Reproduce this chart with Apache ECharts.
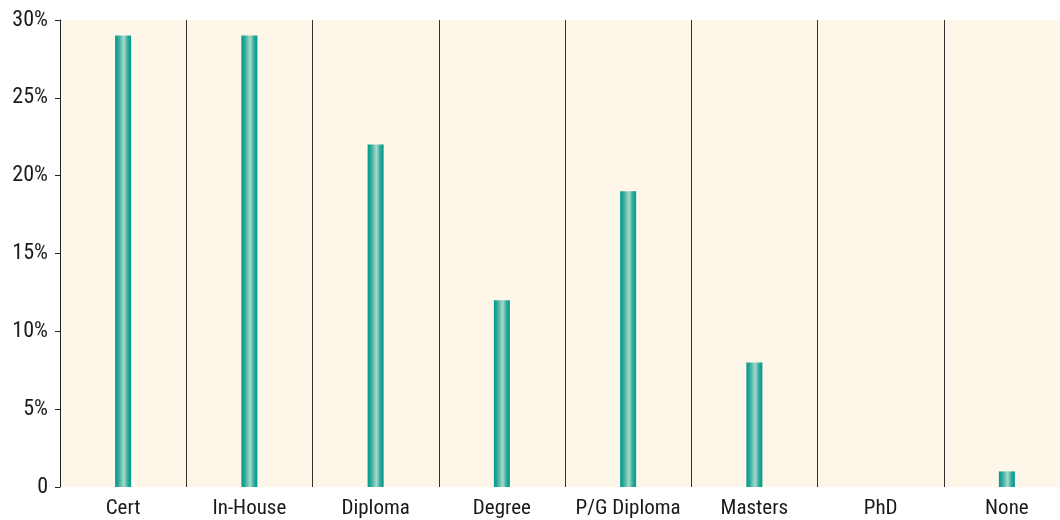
<!DOCTYPE html>
<html>
<head>
<meta charset="utf-8">
<script src="https://cdn.jsdelivr.net/npm/echarts@6/dist/echarts.min.js"></script>
<style>
  html, body { margin: 0; padding: 0; background: #ffffff; overflow: hidden; }
  #chart { width: 1070px; height: 520px; }
</style>
</head>
<body>
<div id="chart"></div>
<script>
// Highest qualification held, share of respondents
const categories = ['Cert', 'In-House', 'Diploma', 'Degree', 'P/G Diploma', 'Masters', 'PhD', 'None'];
const shares = [29, 29, 22, 12, 19, 8, 0, 1];
const yTicks = [0, 5, 10, 15, 20, 25, 30];

const font = '"Liberation Sans Narrow", "Roboto Condensed", "Roboto", sans-serif';

const chart = echarts.init(document.getElementById('chart'));
chart.setOption({
  animation: false,
  backgroundColor: '#ffffff',
  grid: {
    left: 60, top: 20, right: 0, bottom: 33,
    show: true, backgroundColor: '#fdf6e9', borderWidth: 0
  },
  xAxis: {
    type: 'category',
    data: categories,
    boundaryGap: true,
    axisLine: { show: false },
    axisTick: { show: false },
    axisLabel: { interval: 0, fontFamily: font, fontSize: 21, color: '#1a1a1a', margin: 11 },
    splitLine: { show: true, interval: 0, lineStyle: { color: '#333', width: 1 } }
  },
  yAxis: {
    type: 'value',
    min: yTicks[0],
    max: yTicks[yTicks.length - 1],
    interval: 5,
    axisLine: { show: true, lineStyle: { color: '#222', width: 1 } },
    axisTick: { show: true, length: 5, lineStyle: { color: '#222' } },
    axisLabel: {
      fontFamily: font, fontSize: 22, color: '#1a1a1a', margin: 12,
      formatter: v => (v === 0 ? '0' : v + '%')
    },
    splitLine: { show: false }
  },
  series: [{
    type: 'bar',
    data: shares,
    barWidth: 16,
    itemStyle: {
      color: new echarts.graphic.LinearGradient(0, 0, 1, 0, [
        { offset: 0, color: '#00998a' },
        { offset: 0.2, color: '#2aa898' },
        { offset: 0.55, color: '#a9d9cc' },
        { offset: 0.8, color: '#2aa898' },
        { offset: 1, color: '#00998a' }
      ])
    }
  }]
});
</script>
</body>
</html>
